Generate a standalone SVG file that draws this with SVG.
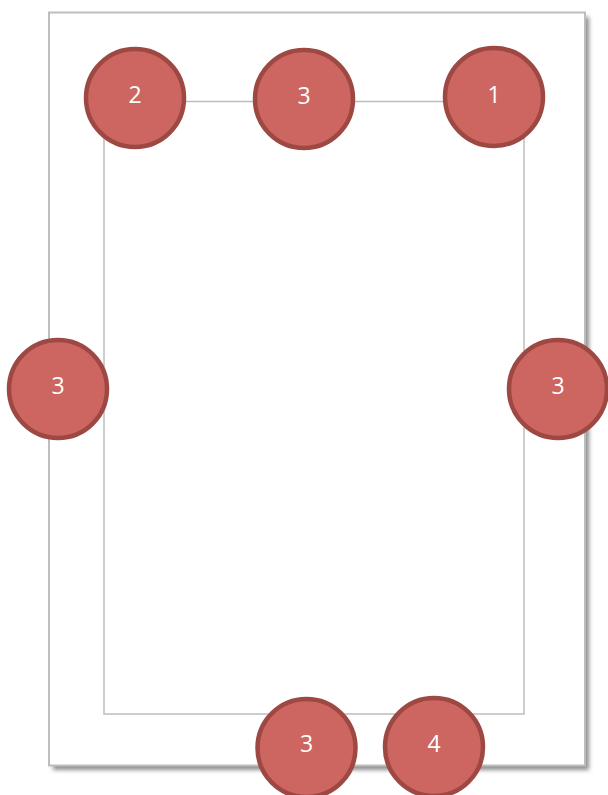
<svg xmlns="http://www.w3.org/2000/svg" width="608" height="795" viewBox="0 0 608 795">
<defs>
<filter id="sh" x="-5%" y="-5%" width="115%" height="115%">
<feGaussianBlur stdDeviation="2"/>
</filter>
<style>
.n circle{fill:#CD6660;stroke:#9E4843;stroke-width:4.5}
.n text{fill:#fff;font-family:"Open Sans","Noto Sans",sans-serif;font-size:23px;text-anchor:middle}
</style>
</defs>
<rect x="53" y="17" width="536" height="753" fill="#8f8f8f" filter="url(#sh)"/>
<rect x="49" y="12.5" width="536" height="753" fill="#fff" stroke="#BDBDBD" stroke-width="2"/>
<g id="connectors">
<rect x="104" y="101.5" width="420" height="612.5" fill="none" stroke="#BDBDBD" stroke-width="1.5"/>
</g>
<g id="n1" class="n"><circle cx="494" cy="97" r="49"/><text x="494" y="103">1</text></g>
<g id="n2" class="n"><circle cx="135" cy="98" r="49"/><text x="135" y="103">2</text></g>
<g id="n3top" class="n"><circle cx="304" cy="99" r="49"/><text x="304" y="104">3</text></g>
<g id="n3left" class="n"><circle cx="58" cy="389" r="49"/><text x="58" y="394">3</text></g>
<g id="n3right" class="n"><circle cx="558" cy="389" r="49"/><text x="558" y="394">3</text></g>
<g id="n3bottom" class="n"><circle cx="306.5" cy="748" r="49"/><text x="306.5" y="752">3</text></g>
<g id="n4" class="n"><circle cx="434" cy="747" r="49"/><text x="434" y="752">4</text></g>
</svg>
